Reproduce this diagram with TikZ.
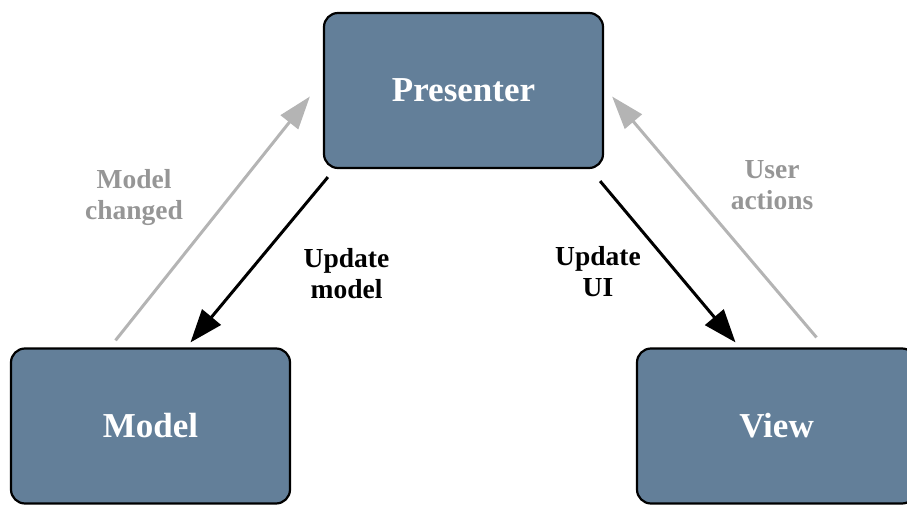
\documentclass[tikz,border=0pt]{standalone}
\usepackage{fontspec}
\setmainfont{Liberation Serif}
\usetikzlibrary{arrows.meta}
\definecolor{slate}{RGB}{99,127,153}
\definecolor{lightarrow}{RGB}{180,180,180}
\definecolor{lighttext}{RGB}{150,150,150}

\begin{document}
\begin{tikzpicture}[x=1pt,y=-1pt]
    \tikzstyle{block}=[rectangle,rounded corners=14pt,line width=2.2pt,draw=black,fill=slate,text=white,minimum width=279pt,minimum height=155pt,font=\fontsize{35}{38}\selectfont\bfseries]
    \tikzstyle{tag}=[align=center,font=\fontsize{27.5}{31}\selectfont\bfseries]
    \tikzstyle{fwd}=[line width=3pt,draw=black,-{Triangle[length=33pt,width=24pt]}]
    \tikzstyle{back}=[line width=3pt,draw=lightarrow,-{Triangle[length=33pt,width=22pt]}]
    \useasboundingbox (0,0) rectangle (907,505);
    % the three boxes
    \node (presenter)[block] at (463.5,90.5) {Presenter};
    \node (model)[block] at (150.5,426) {Model};
    \node (view)[block] at (776.5,426) {View};
    % presenter pushes changes down
    \draw[fwd] ([xshift=5pt,yshift=-8pt]presenter.south west) -- ([xshift=40pt,yshift=5pt]model.north);
    \draw[fwd] ([xshift=-4pt,yshift=-12pt]presenter.south east) -- ([xshift=-41pt,yshift=5pt]view.north);
    % events coming back up
    \draw[back] ([xshift=-35pt,yshift=7pt]model.north) -- ([xshift=-13pt,yshift=-6pt]presenter.west);
    \draw[back] ([xshift=40pt,yshift=10pt]view.north) -- ([xshift=8pt,yshift=-6pt]presenter.east);
    % labels
    \node (changed)[tag,text=lighttext] at (134,197) {Model\\changed};
    \node (updmodel)[tag] at (346.5,274) {Update\\model};
    \node (updui)[tag] at (598,272) {Update\\UI};
    \node (actions)[tag,text=lighttext] at (772,185) {User\\actions};
\end{tikzpicture}
\end{document}
